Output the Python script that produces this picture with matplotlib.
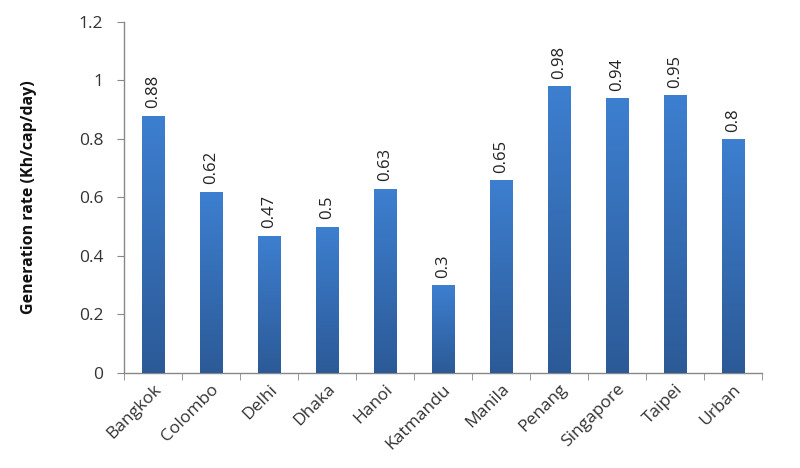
import matplotlib
matplotlib.use("Agg")
import matplotlib.pyplot as plt
import numpy as np
from matplotlib.colors import LinearSegmentedColormap

cities = ["Bangkok", "Colombo", "Delhi", "Dhaka", "Hanoi", "Katmandu",
          "Manila", "Penang", "Singapore", "Taipei", "Urban"]
values = [0.88, 0.62, 0.47, 0.5, 0.63, 0.3, 0.66, 0.98, 0.94, 0.95, 0.8]
labels = ["0.88", "0.62", "0.47", "0.5", "0.63", "0.3", "0.65", "0.98", "0.94", "0.95", "0.8"]
yticks = [0, 0.2, 0.4, 0.6, 0.8, 1, 1.2]
ytick_labels = ["0", "0.2", "0.4", "0.6", "0.8", "1", "1.2"]

plt.rcParams['font.family'] = ['Open Sans', 'DejaVu Sans']

fig = plt.figure(figsize=(8, 4.68), dpi=100)
ax = fig.add_axes([0.155, 0.203, 0.7975, 0.75])

x = np.arange(len(cities))
bars = ax.bar(x, values, width=0.38, color='none', edgecolor='none', zorder=2)

cmap = LinearSegmentedColormap.from_list("g", ["#2c5a97", "#3d7fd0"])
grad = np.linspace(0, 1, 256).reshape(-1, 1)
for b in bars:
    x0, y0 = b.get_x(), b.get_y()
    w, h = b.get_width(), b.get_height()
    ax.bar(x0 + w / 2 + 0.025, h, width=w, bottom=y0, color='#d8d8d8',
           edgecolor='none', zorder=1)
    im = ax.imshow(grad, extent=[x0, x0 + w, y0, y0 + h], origin='lower',
                   cmap=cmap, aspect='auto', zorder=3)
    im.set_clip_path(b)

for xi, v, lab in zip(x, values, labels):
    ax.text(xi, v + 0.025, lab, rotation=90, ha='center', va='bottom',
            fontsize=12, color='#222222')

ax.set_xlim(-0.5, len(cities) - 0.5)
ax.set_ylim(0, 1.2)
ax.set_yticks(yticks)
ax.set_yticklabels(ytick_labels, fontsize=12.5, color='#333333')
ax.set_xticks(x)
ax.set_xticklabels(cities, rotation=45, ha='right', rotation_mode='anchor',
                   fontsize=12.5, color='#333333')
ax.tick_params(axis='x', length=0, pad=6)
ax.set_xticks(np.arange(len(cities) + 1) - 0.5, minor=True)
ax.tick_params(axis='x', which='minor', length=5, color='#888888', direction='out')
ax.tick_params(axis='y', length=5, color='#888888', direction='out', pad=10)

for s in ['top', 'right']:
    ax.spines[s].set_visible(False)
for s in ['left', 'bottom']:
    ax.spines[s].set_color('#888888')
    ax.spines[s].set_linewidth(1)

ax.set_ylabel("Generation rate (Kh/cap/day)", fontsize=11.5, fontweight='bold',
              labelpad=30, color='#111111')

fig.savefig("out.png", dpi=100)
